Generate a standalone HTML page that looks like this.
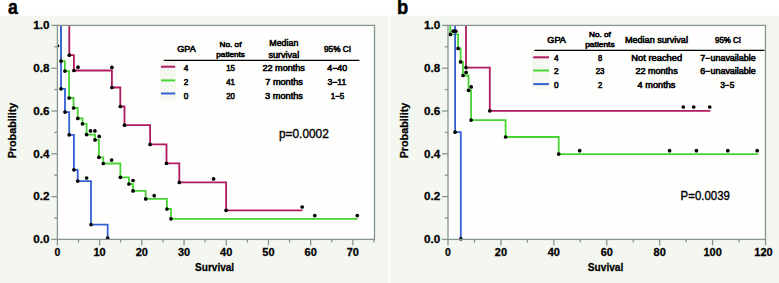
<!DOCTYPE html>
<html><head><meta charset="utf-8"><style>
html,body{margin:0;padding:0;background:#fff;width:779px;height:283px;overflow:hidden}
svg{display:block}
text{font-family:"Liberation Sans",sans-serif}
</style></head><body>
<svg width="779" height="283" viewBox="0 0 779 283" font-family="Liberation Sans, sans-serif">
<rect width="779" height="283" fill="#ffffff"/>
<rect x="0" y="15.8" width="390.4" height="267.3" fill="#f4f7ef"/>
<rect x="389.5" y="15.8" width="389.5" height="267.3" fill="#f4f7ef"/>
<rect x="388" y="15.8" width="2.4" height="267.3" fill="#fafbf7"/>
<rect x="57.4" y="25.4" width="317.1" height="214" fill="#fefefc"/>
<path d="M69.3 25.4 V55.2 H73.9 V70.5 H111.9 V87.5 H120.3 V106.5 H124.5 V125.2 H150.1 V144.4 H166.5 V163.3 H179.3 V182.4 H226.1 V210.3 H302.4" stroke="#b01a61" stroke-width="1.8" fill="none" stroke-linejoin="miter" stroke-linecap="butt"/>
<path d="M61 25.4 V61.1 H64.9 V71.1 H69.1 V98 H73.6 V108 H77.8 V118.4 H82.5 V123.8 H86.6 V134.6 H95 V139.9 H98.9 V157.3 H103.3 V163.5 H120.4 V177.3 H128.9 V184 H133 V190.9 H145.7 V198.9 H166.9 V209 H171 V218.8 H357.4" stroke="#48d434" stroke-width="1.8" fill="none" stroke-linejoin="miter" stroke-linecap="butt"/>
<path d="M61 25.4 V88.8 H65 V112.1 H69.2 V134.8 H73.9 V169.8 H77.7 V181.1 H91 V224.6 H107.7 V239.4" stroke="#3460d4" stroke-width="1.8" fill="none" stroke-linejoin="miter" stroke-linecap="butt"/>
<circle cx="69.3" cy="55.2" r="1.85" fill="#000"/>
<circle cx="73.9" cy="70.5" r="1.85" fill="#000"/>
<circle cx="111.9" cy="87.5" r="1.85" fill="#000"/>
<circle cx="120.3" cy="106.5" r="1.85" fill="#000"/>
<circle cx="124.5" cy="125.2" r="1.85" fill="#000"/>
<circle cx="150.1" cy="144.4" r="1.85" fill="#000"/>
<circle cx="166.5" cy="163.3" r="1.85" fill="#000"/>
<circle cx="179.3" cy="182.4" r="1.85" fill="#000"/>
<circle cx="226.1" cy="210.3" r="1.85" fill="#000"/>
<circle cx="78" cy="67.2" r="1.85" fill="#000"/>
<circle cx="111.9" cy="67.4" r="1.85" fill="#000"/>
<circle cx="213.6" cy="178.9" r="1.85" fill="#000"/>
<circle cx="302.2" cy="207" r="1.85" fill="#000"/>
<circle cx="64.9" cy="71.1" r="1.85" fill="#000"/>
<circle cx="69.1" cy="98" r="1.85" fill="#000"/>
<circle cx="73.6" cy="108" r="1.85" fill="#000"/>
<circle cx="77.8" cy="118.4" r="1.85" fill="#000"/>
<circle cx="82.5" cy="123.8" r="1.85" fill="#000"/>
<circle cx="86.6" cy="134.6" r="1.85" fill="#000"/>
<circle cx="95" cy="139.9" r="1.85" fill="#000"/>
<circle cx="98.9" cy="157.3" r="1.85" fill="#000"/>
<circle cx="103.3" cy="163.5" r="1.85" fill="#000"/>
<circle cx="120.4" cy="177.3" r="1.85" fill="#000"/>
<circle cx="128.9" cy="184" r="1.85" fill="#000"/>
<circle cx="133" cy="190.9" r="1.85" fill="#000"/>
<circle cx="145.7" cy="198.9" r="1.85" fill="#000"/>
<circle cx="166.9" cy="209" r="1.85" fill="#000"/>
<circle cx="171" cy="218.8" r="1.85" fill="#000"/>
<circle cx="90.5" cy="130.9" r="1.85" fill="#000"/>
<circle cx="94.9" cy="130.9" r="1.85" fill="#000"/>
<circle cx="99.2" cy="136.4" r="1.85" fill="#000"/>
<circle cx="111.6" cy="160.1" r="1.85" fill="#000"/>
<circle cx="133" cy="180.5" r="1.85" fill="#000"/>
<circle cx="154.2" cy="195.7" r="1.85" fill="#000"/>
<circle cx="314.8" cy="215.6" r="1.85" fill="#000"/>
<circle cx="357.3" cy="215.6" r="1.85" fill="#000"/>
<clipPath id="ca"><rect x="57.4" y="25" width="318" height="215"/></clipPath>
<circle cx="57.9" cy="45.7" r="1.5" fill="#000" clip-path="url(#ca)"/>
<circle cx="61" cy="61.1" r="1.85" fill="#000"/>
<circle cx="61" cy="88.8" r="1.85" fill="#000"/>
<circle cx="65" cy="112.1" r="1.85" fill="#000"/>
<circle cx="69.2" cy="134.8" r="1.85" fill="#000"/>
<circle cx="73.9" cy="169.8" r="1.85" fill="#000"/>
<circle cx="77.7" cy="181.1" r="1.85" fill="#000"/>
<circle cx="91" cy="224.6" r="1.85" fill="#000"/>
<circle cx="107.7" cy="238.2" r="1.85" fill="#000"/>
<circle cx="86.6" cy="178" r="1.85" fill="#000"/>
<g stroke="#879590" stroke-width="1.3" fill="none">
<rect x="57.4" y="25.4" width="317.10" height="214"/>
<line x1="51.4" y1="239.40" x2="57.4" y2="239.40"/>
<line x1="51.4" y1="196.60" x2="57.4" y2="196.60"/>
<line x1="51.4" y1="153.80" x2="57.4" y2="153.80"/>
<line x1="51.4" y1="111.00" x2="57.4" y2="111.00"/>
<line x1="51.4" y1="68.20" x2="57.4" y2="68.20"/>
<line x1="51.4" y1="25.40" x2="57.4" y2="25.40"/>
<line x1="54.199999999999996" y1="218.00" x2="57.4" y2="218.00"/>
<line x1="54.199999999999996" y1="175.20" x2="57.4" y2="175.20"/>
<line x1="54.199999999999996" y1="132.40" x2="57.4" y2="132.40"/>
<line x1="54.199999999999996" y1="89.60" x2="57.4" y2="89.60"/>
<line x1="54.199999999999996" y1="46.80" x2="57.4" y2="46.80"/>
<line x1="57.40" y1="239.4" x2="57.40" y2="245.4"/>
<line x1="99.61" y1="239.4" x2="99.61" y2="245.4"/>
<line x1="141.82" y1="239.4" x2="141.82" y2="245.4"/>
<line x1="184.03" y1="239.4" x2="184.03" y2="245.4"/>
<line x1="226.24" y1="239.4" x2="226.24" y2="245.4"/>
<line x1="268.45" y1="239.4" x2="268.45" y2="245.4"/>
<line x1="310.66" y1="239.4" x2="310.66" y2="245.4"/>
<line x1="352.87" y1="239.4" x2="352.87" y2="245.4"/>
<line x1="78.50" y1="239.4" x2="78.50" y2="242.6"/>
<line x1="120.72" y1="239.4" x2="120.72" y2="242.6"/>
<line x1="162.93" y1="239.4" x2="162.93" y2="242.6"/>
<line x1="205.14" y1="239.4" x2="205.14" y2="242.6"/>
<line x1="247.34" y1="239.4" x2="247.34" y2="242.6"/>
<line x1="289.56" y1="239.4" x2="289.56" y2="242.6"/>
<line x1="331.76" y1="239.4" x2="331.76" y2="242.6"/>
<line x1="373.97" y1="239.4" x2="373.97" y2="242.6"/>
</g>
<text x="49.4" y="243.1" font-size="11.4" font-weight="bold" text-anchor="end" textLength="16.2" lengthAdjust="spacingAndGlyphs" fill="#000" stroke="#000" stroke-width="0.28">0.0</text>
<text x="49.4" y="200.3" font-size="11.4" font-weight="bold" text-anchor="end" textLength="16.2" lengthAdjust="spacingAndGlyphs" fill="#000" stroke="#000" stroke-width="0.28">0.2</text>
<text x="49.4" y="157.5" font-size="11.4" font-weight="bold" text-anchor="end" textLength="16.2" lengthAdjust="spacingAndGlyphs" fill="#000" stroke="#000" stroke-width="0.28">0.4</text>
<text x="49.4" y="114.7" font-size="11.4" font-weight="bold" text-anchor="end" textLength="16.2" lengthAdjust="spacingAndGlyphs" fill="#000" stroke="#000" stroke-width="0.28">0.6</text>
<text x="49.4" y="71.9" font-size="11.4" font-weight="bold" text-anchor="end" textLength="16.2" lengthAdjust="spacingAndGlyphs" fill="#000" stroke="#000" stroke-width="0.28">0.8</text>
<text x="49.4" y="29.1" font-size="11.4" font-weight="bold" text-anchor="end" textLength="16.2" lengthAdjust="spacingAndGlyphs" fill="#000" stroke="#000" stroke-width="0.28">1.0</text>
<text x="57.4" y="255.9" font-size="10.5" font-weight="bold" text-anchor="middle" textLength="5.8" lengthAdjust="spacingAndGlyphs" fill="#000" stroke="#000" stroke-width="0.28">0</text>
<text x="99.61" y="255.9" font-size="10.5" font-weight="bold" text-anchor="middle" textLength="12.2" lengthAdjust="spacingAndGlyphs" fill="#000" stroke="#000" stroke-width="0.28">10</text>
<text x="141.82" y="255.9" font-size="10.5" font-weight="bold" text-anchor="middle" textLength="12.2" lengthAdjust="spacingAndGlyphs" fill="#000" stroke="#000" stroke-width="0.28">20</text>
<text x="184.03" y="255.9" font-size="10.5" font-weight="bold" text-anchor="middle" textLength="12.2" lengthAdjust="spacingAndGlyphs" fill="#000" stroke="#000" stroke-width="0.28">30</text>
<text x="226.24" y="255.9" font-size="10.5" font-weight="bold" text-anchor="middle" textLength="12.2" lengthAdjust="spacingAndGlyphs" fill="#000" stroke="#000" stroke-width="0.28">40</text>
<text x="268.45" y="255.9" font-size="10.5" font-weight="bold" text-anchor="middle" textLength="12.2" lengthAdjust="spacingAndGlyphs" fill="#000" stroke="#000" stroke-width="0.28">50</text>
<text x="310.66" y="255.9" font-size="10.5" font-weight="bold" text-anchor="middle" textLength="12.2" lengthAdjust="spacingAndGlyphs" fill="#000" stroke="#000" stroke-width="0.28">60</text>
<text x="352.87" y="255.9" font-size="10.5" font-weight="bold" text-anchor="middle" textLength="12.2" lengthAdjust="spacingAndGlyphs" fill="#000" stroke="#000" stroke-width="0.28">70</text>
<text x="214.6" y="271.3" font-size="11.3" font-weight="bold" text-anchor="middle" textLength="39.1" lengthAdjust="spacingAndGlyphs" fill="#000" stroke="#000" stroke-width="0.28">Survival</text>
<text transform="translate(16.2,130.5) rotate(-90)" font-size="10.8" font-weight="bold" text-anchor="middle" textLength="55.7" lengthAdjust="spacingAndGlyphs" stroke="#000" stroke-width="0.25">Probability</text>
<text x="12.8" y="13.8" font-size="19.5" font-weight="bold" text-anchor="middle" textLength="9.8" lengthAdjust="spacingAndGlyphs" fill="#000" stroke="#000" stroke-width="0.5">a</text>
<text x="303.9" y="137.5" font-size="11.9" font-weight="normal" text-anchor="middle" textLength="49.9" lengthAdjust="spacingAndGlyphs" fill="#000" stroke="#000" stroke-width="0.35">p=0.0002</text>
<rect x="159.7" y="61" width="16.4" height="39.5" fill="#f5f7f0"/>
<line x1="163.7" y1="60.4" x2="359.4" y2="60.4" stroke="#000" stroke-width="1.2"/>
<text x="186.5" y="52.2" font-size="8.8" font-weight="normal" text-anchor="middle" textLength="18.5" lengthAdjust="spacingAndGlyphs" fill="#000" stroke="#000" stroke-width="0.55">GPA</text>
<text x="230.5" y="46.5" font-size="7.6" font-weight="normal" text-anchor="middle" textLength="21.9" lengthAdjust="spacingAndGlyphs" fill="#000" stroke="#000" stroke-width="0.55">No. of</text>
<text x="230.6" y="56.8" font-size="7.6" font-weight="normal" text-anchor="middle" textLength="28.5" lengthAdjust="spacingAndGlyphs" fill="#000" stroke="#000" stroke-width="0.55">patients</text>
<text x="283.8" y="46.3" font-size="8.6" font-weight="normal" text-anchor="middle" textLength="29" lengthAdjust="spacingAndGlyphs" fill="#000" stroke="#000" stroke-width="0.55">Median</text>
<text x="283.8" y="57.5" font-size="8.6" font-weight="normal" text-anchor="middle" textLength="30.8" lengthAdjust="spacingAndGlyphs" fill="#000" stroke="#000" stroke-width="0.55">survival</text>
<text x="337.5" y="52.1" font-size="8.2" font-weight="normal" text-anchor="middle" textLength="27" lengthAdjust="spacingAndGlyphs" fill="#000" stroke="#000" stroke-width="0.55">95% CI</text>
<line x1="161" y1="66.7" x2="175.2" y2="66.7" stroke="#b01a61" stroke-width="2"/>
<line x1="161" y1="80.4" x2="175.2" y2="80.4" stroke="#48d434" stroke-width="2"/>
<line x1="161" y1="93.5" x2="175.2" y2="93.5" stroke="#3460d4" stroke-width="2"/>
<text x="186" y="71.1" font-size="8.6" font-weight="normal" text-anchor="middle" textLength="4.6" lengthAdjust="spacingAndGlyphs" fill="#000" stroke="#000" stroke-width="0.55">4</text>
<text x="230.5" y="71.1" font-size="8.6" font-weight="normal" text-anchor="middle" textLength="8.7" lengthAdjust="spacingAndGlyphs" fill="#000" stroke="#000" stroke-width="0.55">15</text>
<text x="283.7" y="71.1" font-size="8.6" font-weight="normal" text-anchor="middle" textLength="42.4" lengthAdjust="spacingAndGlyphs" fill="#000" stroke="#000" stroke-width="0.55">22 months</text>
<text x="337.25" y="71.1" font-size="8.6" font-weight="normal" text-anchor="middle" textLength="20.1" lengthAdjust="spacingAndGlyphs" fill="#000" stroke="#000" stroke-width="0.55">4−40</text>
<text x="186" y="85.3" font-size="8.6" font-weight="normal" text-anchor="middle" textLength="4.6" lengthAdjust="spacingAndGlyphs" fill="#000" stroke="#000" stroke-width="0.55">2</text>
<text x="230.5" y="85.3" font-size="8.6" font-weight="normal" text-anchor="middle" textLength="8.7" lengthAdjust="spacingAndGlyphs" fill="#000" stroke="#000" stroke-width="0.55">41</text>
<text x="284.1" y="85.3" font-size="8.6" font-weight="normal" text-anchor="middle" textLength="37.6" lengthAdjust="spacingAndGlyphs" fill="#000" stroke="#000" stroke-width="0.55">7 months</text>
<text x="336.9" y="85.3" font-size="8.6" font-weight="normal" text-anchor="middle" textLength="18.8" lengthAdjust="spacingAndGlyphs" fill="#000" stroke="#000" stroke-width="0.55">3−11</text>
<text x="186" y="99.2" font-size="8.6" font-weight="normal" text-anchor="middle" textLength="4.6" lengthAdjust="spacingAndGlyphs" fill="#000" stroke="#000" stroke-width="0.55">0</text>
<text x="230.5" y="99.2" font-size="8.6" font-weight="normal" text-anchor="middle" textLength="8.7" lengthAdjust="spacingAndGlyphs" fill="#000" stroke="#000" stroke-width="0.55">20</text>
<text x="284.0" y="99.2" font-size="8.6" font-weight="normal" text-anchor="middle" textLength="37.8" lengthAdjust="spacingAndGlyphs" fill="#000" stroke="#000" stroke-width="0.55">3 months</text>
<text x="337.45" y="99.2" font-size="8.6" font-weight="normal" text-anchor="middle" textLength="13.5" lengthAdjust="spacingAndGlyphs" fill="#000" stroke="#000" stroke-width="0.55">1−5</text>
<rect x="448" y="25.4" width="317.5" height="214" fill="#fefefc"/>
<path d="M466 25.4 V67.6 H489.8 V110.8 H710.3" stroke="#b01a61" stroke-width="1.8" fill="none" stroke-linejoin="miter" stroke-linecap="butt"/>
<path d="M450.3 25.4 V34.4 H458.1 V48.4 H460.6 V61.9 H462.9 V75.5 H468.6 V90.3 H471.1 V120.1 H505.6 V137 H558.7 V154.1 H758" stroke="#48d434" stroke-width="1.8" fill="none" stroke-linejoin="miter" stroke-linecap="butt"/>
<path d="M455.1 25.4 V132.2 H460.8 V239.4" stroke="#3460d4" stroke-width="1.8" fill="none" stroke-linejoin="miter" stroke-linecap="butt"/>
<circle cx="466" cy="67.6" r="1.85" fill="#000"/>
<circle cx="489.8" cy="110.8" r="1.85" fill="#000"/>
<circle cx="683.3" cy="107" r="1.85" fill="#000"/>
<circle cx="693.7" cy="107" r="1.85" fill="#000"/>
<circle cx="709.7" cy="107" r="1.85" fill="#000"/>
<circle cx="450.3" cy="34.4" r="1.85" fill="#000"/>
<circle cx="458.1" cy="48.4" r="1.85" fill="#000"/>
<circle cx="460.6" cy="61.9" r="1.85" fill="#000"/>
<circle cx="463" cy="75.5" r="1.85" fill="#000"/>
<circle cx="468.6" cy="90.3" r="1.85" fill="#000"/>
<circle cx="471.1" cy="120.1" r="1.85" fill="#000"/>
<circle cx="505.6" cy="137" r="1.85" fill="#000"/>
<circle cx="558.7" cy="154.1" r="1.85" fill="#000"/>
<circle cx="453.3" cy="31.2" r="1.85" fill="#000"/>
<circle cx="455.8" cy="31.2" r="1.85" fill="#000"/>
<circle cx="466.1" cy="72.4" r="1.85" fill="#000"/>
<circle cx="471.2" cy="86.9" r="1.85" fill="#000"/>
<circle cx="579.7" cy="150.7" r="1.85" fill="#000"/>
<circle cx="669.6" cy="150.7" r="1.85" fill="#000"/>
<circle cx="696.4" cy="150.7" r="1.85" fill="#000"/>
<circle cx="727.8" cy="150.7" r="1.85" fill="#000"/>
<circle cx="757.2" cy="150.7" r="1.85" fill="#000"/>
<circle cx="455.1" cy="132.2" r="1.85" fill="#000"/>
<circle cx="460.8" cy="238.8" r="1.85" fill="#000"/>
<g stroke="#879590" stroke-width="1.3" fill="none">
<rect x="448" y="25.4" width="317.50" height="214"/>
<line x1="442" y1="239.40" x2="448" y2="239.40"/>
<line x1="442" y1="196.60" x2="448" y2="196.60"/>
<line x1="442" y1="153.80" x2="448" y2="153.80"/>
<line x1="442" y1="111.00" x2="448" y2="111.00"/>
<line x1="442" y1="68.20" x2="448" y2="68.20"/>
<line x1="442" y1="25.40" x2="448" y2="25.40"/>
<line x1="444.8" y1="218.00" x2="448" y2="218.00"/>
<line x1="444.8" y1="175.20" x2="448" y2="175.20"/>
<line x1="444.8" y1="132.40" x2="448" y2="132.40"/>
<line x1="444.8" y1="89.60" x2="448" y2="89.60"/>
<line x1="444.8" y1="46.80" x2="448" y2="46.80"/>
<line x1="448.00" y1="239.4" x2="448.00" y2="245.4"/>
<line x1="500.92" y1="239.4" x2="500.92" y2="245.4"/>
<line x1="553.84" y1="239.4" x2="553.84" y2="245.4"/>
<line x1="606.76" y1="239.4" x2="606.76" y2="245.4"/>
<line x1="659.68" y1="239.4" x2="659.68" y2="245.4"/>
<line x1="712.60" y1="239.4" x2="712.60" y2="245.4"/>
<line x1="765.52" y1="239.4" x2="765.52" y2="245.4"/>
<line x1="474.46" y1="239.4" x2="474.46" y2="242.6"/>
<line x1="527.38" y1="239.4" x2="527.38" y2="242.6"/>
<line x1="580.30" y1="239.4" x2="580.30" y2="242.6"/>
<line x1="633.22" y1="239.4" x2="633.22" y2="242.6"/>
<line x1="686.14" y1="239.4" x2="686.14" y2="242.6"/>
<line x1="739.06" y1="239.4" x2="739.06" y2="242.6"/>
</g>
<text x="440.2" y="243.1" font-size="11.4" font-weight="bold" text-anchor="end" textLength="16.2" lengthAdjust="spacingAndGlyphs" fill="#000" stroke="#000" stroke-width="0.28">0.0</text>
<text x="440.2" y="200.3" font-size="11.4" font-weight="bold" text-anchor="end" textLength="16.2" lengthAdjust="spacingAndGlyphs" fill="#000" stroke="#000" stroke-width="0.28">0.2</text>
<text x="440.2" y="157.5" font-size="11.4" font-weight="bold" text-anchor="end" textLength="16.2" lengthAdjust="spacingAndGlyphs" fill="#000" stroke="#000" stroke-width="0.28">0.4</text>
<text x="440.2" y="114.7" font-size="11.4" font-weight="bold" text-anchor="end" textLength="16.2" lengthAdjust="spacingAndGlyphs" fill="#000" stroke="#000" stroke-width="0.28">0.6</text>
<text x="440.2" y="71.9" font-size="11.4" font-weight="bold" text-anchor="end" textLength="16.2" lengthAdjust="spacingAndGlyphs" fill="#000" stroke="#000" stroke-width="0.28">0.8</text>
<text x="440.2" y="29.1" font-size="11.4" font-weight="bold" text-anchor="end" textLength="16.2" lengthAdjust="spacingAndGlyphs" fill="#000" stroke="#000" stroke-width="0.28">1.0</text>
<text x="448.0" y="255.9" font-size="10.5" font-weight="bold" text-anchor="middle" textLength="5.8" lengthAdjust="spacingAndGlyphs" fill="#000" stroke="#000" stroke-width="0.28">0</text>
<text x="500.92" y="255.9" font-size="10.5" font-weight="bold" text-anchor="middle" textLength="12.2" lengthAdjust="spacingAndGlyphs" fill="#000" stroke="#000" stroke-width="0.28">20</text>
<text x="553.84" y="255.9" font-size="10.5" font-weight="bold" text-anchor="middle" textLength="12.2" lengthAdjust="spacingAndGlyphs" fill="#000" stroke="#000" stroke-width="0.28">40</text>
<text x="606.76" y="255.9" font-size="10.5" font-weight="bold" text-anchor="middle" textLength="12.2" lengthAdjust="spacingAndGlyphs" fill="#000" stroke="#000" stroke-width="0.28">60</text>
<text x="659.68" y="255.9" font-size="10.5" font-weight="bold" text-anchor="middle" textLength="12.2" lengthAdjust="spacingAndGlyphs" fill="#000" stroke="#000" stroke-width="0.28">80</text>
<text x="712.6" y="255.9" font-size="10.5" font-weight="bold" text-anchor="middle" textLength="18.3" lengthAdjust="spacingAndGlyphs" fill="#000" stroke="#000" stroke-width="0.28">100</text>
<text x="763.5" y="255.9" font-size="10.5" font-weight="bold" text-anchor="middle" textLength="18.3" lengthAdjust="spacingAndGlyphs" fill="#000" stroke="#000" stroke-width="0.28">120</text>
<text x="605.55" y="271.4" font-size="11.3" font-weight="bold" text-anchor="middle" textLength="35.5" lengthAdjust="spacingAndGlyphs" fill="#000" stroke="#000" stroke-width="0.28">Suvival</text>
<text transform="translate(407.5,130.5) rotate(-90)" font-size="10.8" font-weight="bold" text-anchor="middle" textLength="55.7" lengthAdjust="spacingAndGlyphs" stroke="#000" stroke-width="0.25">Probability</text>
<text x="402.5" y="14.2" font-size="20.5" font-weight="bold" text-anchor="middle" textLength="11.2" lengthAdjust="spacingAndGlyphs" fill="#000" stroke="#000" stroke-width="0.5">b</text>
<text x="705.25" y="199.6" font-size="12.2" font-weight="normal" text-anchor="middle" textLength="49.3" lengthAdjust="spacingAndGlyphs" fill="#000" stroke="#000" stroke-width="0.35">P=0.0039</text>
<rect x="532" y="51" width="17.7" height="38.2" fill="#f5f7f0"/>
<line x1="534.4" y1="50.3" x2="764.5" y2="50.3" stroke="#000" stroke-width="1.2"/>
<text x="556.6" y="42.8" font-size="8.2" font-weight="normal" text-anchor="middle" textLength="18.6" lengthAdjust="spacingAndGlyphs" fill="#000" stroke="#000" stroke-width="0.55">GPA</text>
<text x="599.95" y="37.2" font-size="7.6" font-weight="normal" text-anchor="middle" textLength="21.9" lengthAdjust="spacingAndGlyphs" fill="#000" stroke="#000" stroke-width="0.55">No. of</text>
<text x="599.95" y="46.8" font-size="7.6" font-weight="normal" text-anchor="middle" textLength="29.5" lengthAdjust="spacingAndGlyphs" fill="#000" stroke="#000" stroke-width="0.55">patients</text>
<text x="656.45" y="43.4" font-size="8.6" font-weight="normal" text-anchor="middle" textLength="62.9" lengthAdjust="spacingAndGlyphs" fill="#000" stroke="#000" stroke-width="0.55">Median survival</text>
<text x="728" y="43.0" font-size="8.2" font-weight="normal" text-anchor="middle" textLength="26" lengthAdjust="spacingAndGlyphs" fill="#000" stroke="#000" stroke-width="0.55">95% CI</text>
<line x1="533.2" y1="57.3" x2="549" y2="57.3" stroke="#b01a61" stroke-width="2"/>
<line x1="533.2" y1="70.5" x2="549" y2="70.5" stroke="#48d434" stroke-width="2"/>
<line x1="533.2" y1="84.1" x2="549" y2="84.1" stroke="#3460d4" stroke-width="2"/>
<text x="556.2" y="60.8" font-size="8.2" font-weight="normal" text-anchor="middle" textLength="4.6" lengthAdjust="spacingAndGlyphs" fill="#000" stroke="#000" stroke-width="0.55">4</text>
<text x="600.1" y="60.8" font-size="8.2" font-weight="normal" text-anchor="middle" textLength="4.2" lengthAdjust="spacingAndGlyphs" fill="#000" stroke="#000" stroke-width="0.55">8</text>
<text x="656.75" y="60.8" font-size="8.4" font-weight="normal" text-anchor="middle" textLength="50.9" lengthAdjust="spacingAndGlyphs" fill="#000" stroke="#000" stroke-width="0.55">Not reached</text>
<text x="728.0" y="60.8" font-size="8.4" font-weight="normal" text-anchor="middle" textLength="55.4" lengthAdjust="spacingAndGlyphs" fill="#000" stroke="#000" stroke-width="0.55">7−unavailable</text>
<text x="556.2" y="74.3" font-size="8.2" font-weight="normal" text-anchor="middle" textLength="4.6" lengthAdjust="spacingAndGlyphs" fill="#000" stroke="#000" stroke-width="0.55">2</text>
<text x="600.1" y="74.3" font-size="8.2" font-weight="normal" text-anchor="middle" textLength="8.7" lengthAdjust="spacingAndGlyphs" fill="#000" stroke="#000" stroke-width="0.55">23</text>
<text x="656.55" y="74.3" font-size="8.4" font-weight="normal" text-anchor="middle" textLength="42.3" lengthAdjust="spacingAndGlyphs" fill="#000" stroke="#000" stroke-width="0.55">22 months</text>
<text x="728.0" y="74.3" font-size="8.4" font-weight="normal" text-anchor="middle" textLength="55.4" lengthAdjust="spacingAndGlyphs" fill="#000" stroke="#000" stroke-width="0.55">6−unavailable</text>
<text x="556.2" y="87.6" font-size="8.2" font-weight="normal" text-anchor="middle" textLength="4.6" lengthAdjust="spacingAndGlyphs" fill="#000" stroke="#000" stroke-width="0.55">0</text>
<text x="600.1" y="87.6" font-size="8.2" font-weight="normal" text-anchor="middle" textLength="4.2" lengthAdjust="spacingAndGlyphs" fill="#000" stroke="#000" stroke-width="0.55">2</text>
<text x="656.5" y="87.6" font-size="8.4" font-weight="normal" text-anchor="middle" textLength="37.8" lengthAdjust="spacingAndGlyphs" fill="#000" stroke="#000" stroke-width="0.55">4 months</text>
<text x="727.25" y="87.6" font-size="8.4" font-weight="normal" text-anchor="middle" textLength="14.1" lengthAdjust="spacingAndGlyphs" fill="#000" stroke="#000" stroke-width="0.55">3−5</text>
</svg>
</body></html>
